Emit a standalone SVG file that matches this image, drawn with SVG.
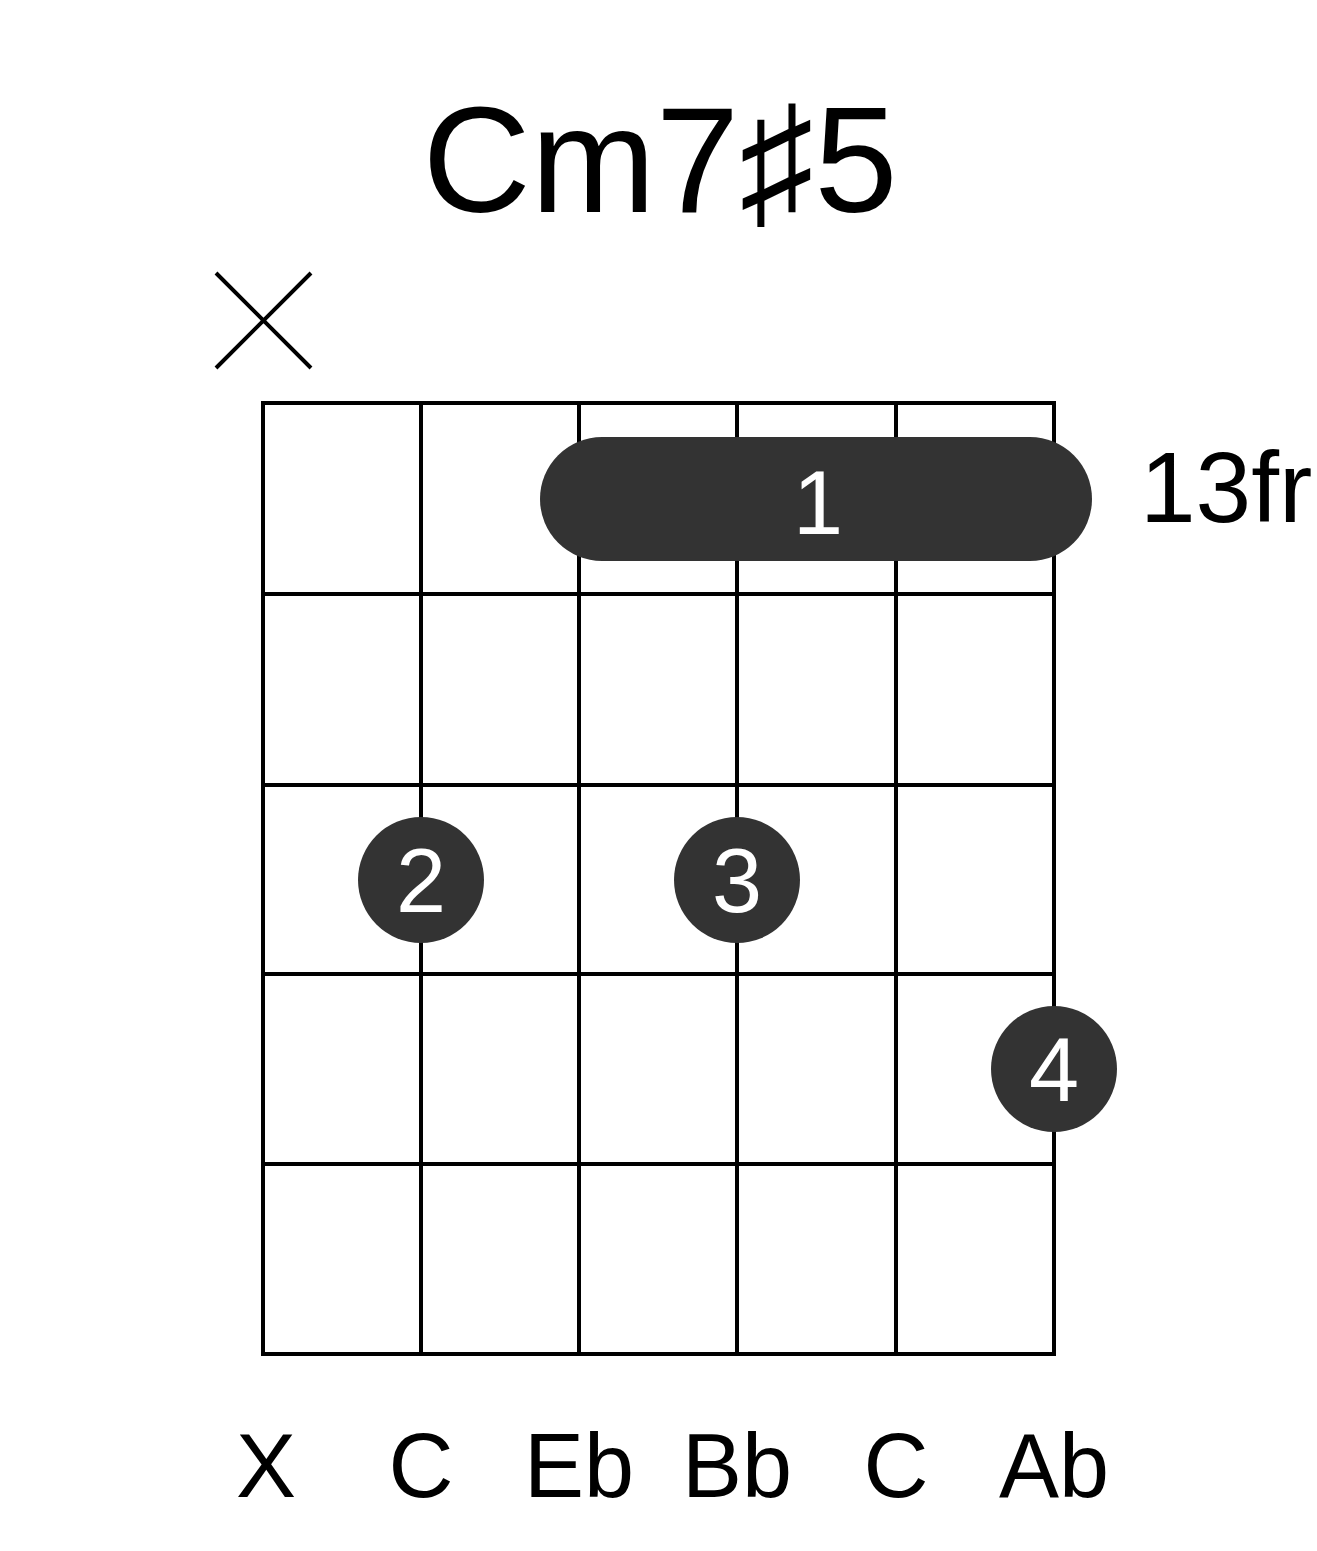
<svg xmlns="http://www.w3.org/2000/svg" width="1317" height="1551" viewBox="0 0 1317 1551">
<style>
.g{stroke:#000;stroke-width:4;fill:none}
.t{font-family:"Liberation Sans",Arial,sans-serif;fill:#000}
.d{fill:#333}
.n{font-family:"Liberation Sans",Arial,sans-serif;fill:#fff;font-size:90px;text-anchor:middle}
.l{font-family:"Liberation Sans",Arial,sans-serif;font-size:90px;text-anchor:middle}
</style>
<rect width="1317" height="1551" fill="#fff"/>
<text class="t" x="660" y="212" font-size="150" text-anchor="middle">Cm7♯5</text>
<g id="mute"><path class="g" d="M216 273L311 368M311 273L216 368" stroke-width="3"/></g>
<g id="grid">
<rect class="g" x="263" y="403" width="791" height="951"/>
<path class="g" d="M421 403V1354M579 403V1354M737 403V1354M896 403V1354M263 594H1054M263 785H1054M263 974H1054M263 1164H1054"/>
</g>
<g id="barre"><rect class="d" x="540" y="437" width="552" height="124" rx="62"/><text class="n" x="818" y="534">1</text></g>
<g id="f2"><circle class="d" cx="421" cy="880" r="63"/><text class="n" x="421" y="912">2</text></g>
<g id="f3"><circle class="d" cx="737" cy="880" r="63"/><text class="n" x="737" y="912">3</text></g>
<g id="f4"><circle class="d" cx="1054" cy="1069" r="63"/><text class="n" x="1054" y="1101">4</text></g>
<text class="t" x="1140" y="522" font-size="100">13fr</text>
<g id="labels">
<text class="l" x="266" y="1497">X</text>
<text class="l" x="421" y="1497">C</text>
<text class="l" x="579" y="1497">Eb</text>
<text class="l" x="737" y="1497">Bb</text>
<text class="l" x="896" y="1497">C</text>
<text class="l" x="1054" y="1497">Ab</text>
</g>
</svg>
